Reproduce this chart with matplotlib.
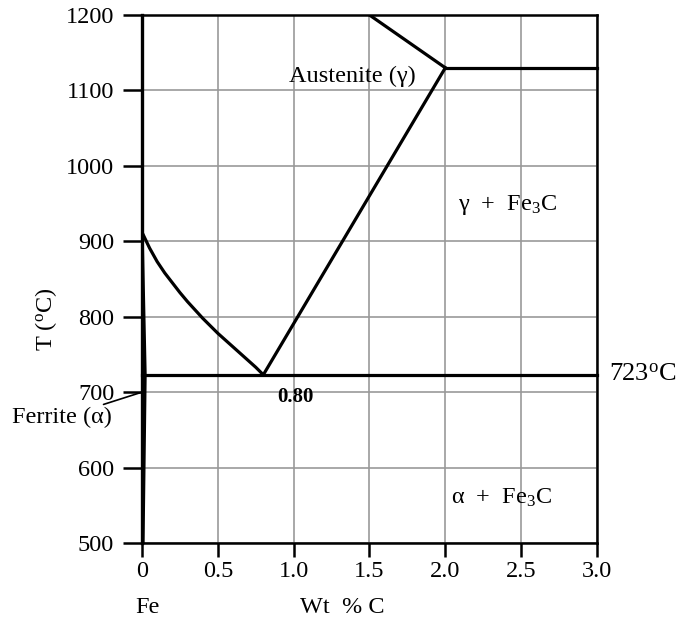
import matplotlib
matplotlib.use("Agg")
import matplotlib.pyplot as plt

plt.rcParams['font.family'] = ['Liberation Serif', 'DejaVu Serif']
plt.rcParams['mathtext.fontset'] = 'custom'
plt.rcParams['mathtext.rm'] = 'Liberation Serif'
plt.rcParams['mathtext.default'] = 'regular'

# Fe-Fe3C diagram, lower-carbon part
a3_wt = [0.0, 0.05, 0.1, 0.15, 0.2, 0.25, 0.3, 0.35, 0.4, 0.45,
         0.5, 0.55, 0.6, 0.65, 0.7, 0.75, 0.8]
a3_temp = [912, 891, 873, 858, 845, 832, 820, 809, 798, 788,
           778, 769, 760, 751, 742, 733, 723]

acm_wt = [0.8, 2.0]
acm_temp = [723, 1130]

solidus_wt = [1.5, 2.0]
solidus_temp = [1200, 1130]

eutectic_wt = [2.0, 3.0]
eutectic_temp = [1130, 1130]

eutectoid_wt = [0.0, 3.0]
eutectoid_temp = [723, 723]

ferrite_wt = [0.0, 0.02, 0.006]
ferrite_temp = [912, 723, 500]

x_ticks = [0, 0.5, 1.0, 1.5, 2.0, 2.5, 3.0]
x_labels = ["0", "0.5", "1.0", "1.5", "2.0", "2.5", "3.0"]
y_ticks = [500, 600, 700, 800, 900, 1000, 1100, 1200]

fig = plt.figure(figsize=(6.85, 6.2), dpi=100)
ax = fig.add_axes([0.2073, 0.1242, 0.6642, 0.8516])

ax.set_xlim(0, 3.0)
ax.set_ylim(500, 1200)
ax.set_xticks(x_ticks)
ax.set_xticklabels(x_labels)
ax.set_yticks(y_ticks)
ax.grid(True, color='#999999', linewidth=1.2)
ax.set_axisbelow(True)
for s in ax.spines.values():
    s.set_linewidth(1.8)
ax.spines['left'].set_linewidth(2.4)
ax.tick_params(axis='both', direction='out', width=1.8, labelsize=17.5)
ax.tick_params(axis='x', length=10, pad=3)
ax.tick_params(axis='y', length=14, pad=6)

lw = 2.3
ax.plot(a3_wt, a3_temp, color='black', lw=lw)
ax.plot(acm_wt, acm_temp, color='black', lw=lw)
ax.plot(solidus_wt, solidus_temp, color='black', lw=lw)
ax.plot(eutectic_wt, eutectic_temp, color='black', lw=lw, clip_on=False)
ax.plot(eutectoid_wt, eutectoid_temp, color='black', lw=lw, clip_on=False)
ax.plot(ferrite_wt, ferrite_temp, color='black', lw=2.4)

ax.text(1.385, 1118, "Austenite (γ)", fontsize=17.5, ha='center', va='center')
ax.text(2.41, 948, "γ  +  Fe$_3$C", fontsize=17.5, ha='center', va='center')
ax.text(2.37, 560, "α  +  Fe$_3$C", fontsize=17.5, ha='center', va='center')
ax.text(1.015, 694, "0.80", fontsize=15, fontweight='bold', ha='center', va='center')
ax.text(3.08, 723, "723$^{o}$C", fontsize=19, ha='left', va='center', clip_on=False)

ax.annotate("Ferrite (α)", xy=(0.0, 700), xytext=(-0.2, 666),
            fontsize=17.5, ha='right', va='center',
            arrowprops=dict(arrowstyle='-', color='black', lw=1.2,
                            shrinkA=0, shrinkB=0))

ax.text(-0.63, 796, "T ($^{o}$C)", fontsize=17.5, rotation=90,
        ha='center', va='center')
ax.text(0.035, 415, "Fe", fontsize=17.5, ha='center', va='center')
ax.text(1.32, 415, "Wt  % C", fontsize=17.5, ha='center', va='center')

fig.savefig("out.png", dpi=100)
